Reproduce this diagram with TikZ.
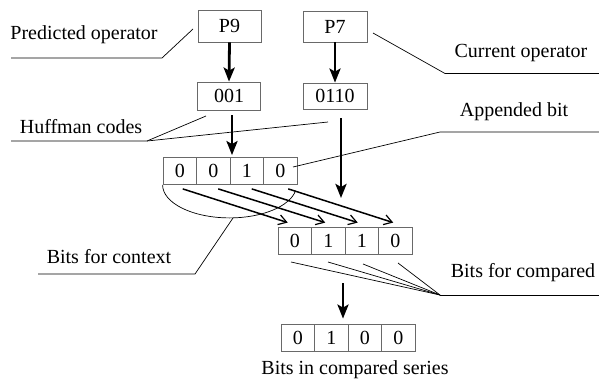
\documentclass[tikz,border=0pt]{standalone}
\usepackage{fontspec}
\setmainfont{Liberation Serif}
\usetikzlibrary{arrows.meta}
\definecolor{boxgray}{RGB}{105,105,105}
\begin{document}
\begin{tikzpicture}[x=1pt,y=-1pt,
  font=\fontsize{20}{24}\selectfont,
  opbox/.style={draw=boxgray,line width=0.8pt,inner sep=0pt,minimum width=63pt,minimum height=30pt},
  cell/.style={draw=boxgray,line width=0.8pt,inner sep=0pt,minimum width=33.5pt,minimum height=27pt},
  lbl/.style={inner sep=0pt},
  bigarrow/.style={line width=2.8pt,-{Stealth[length=14pt,width=11pt,inset=3pt]}},
  diagarrow/.style={line width=1.5pt,-{Straight Barb[length=8pt,width=10pt,line width=1.2pt]}},
  leader/.style={line width=0.7pt}]
\useasboundingbox (0,0) rectangle (599,380);

% operator boxes
\node[opbox,minimum height=32pt] (p9) at (229.5,26) {P9};
\node[opbox,minimum height=28pt] (c001) at (229,96) {001};
\node[opbox,minimum width=64pt,minimum height=31pt] (p7) at (335,26.5) {P7};
\node[opbox,minimum width=64pt,minimum height=26pt] (c0110) at (335,96) {0110};

% bit rows
\node[cell] (r11) at (179.75,171) {0};
\node[cell] (r12) at (213.25,171) {0};
\node[cell] (r13) at (246.75,171) {1};
\node[cell] (r14) at (280.25,171) {0};

\node[cell] (r21) at (294.75,240.5) {0};
\node[cell] (r22) at (328.25,240.5) {1};
\node[cell] (r23) at (361.75,240.5) {1};
\node[cell] (r24) at (395.25,240.5) {0};

\node[cell] (r31) at (297.75,337.5) {0};
\node[cell] (r32) at (331.25,337.5) {1};
\node[cell] (r33) at (364.75,337.5) {0};
\node[cell] (r34) at (398.25,337.5) {0};

% vertical arrows
\draw[bigarrow] (p9.south) -- (c001.north);
\draw[bigarrow] (p7.south) -- (c0110.north);
\draw[bigarrow,shorten <=5pt,shorten >=2pt] ([xshift=3pt]c001.south) -- ([xshift=3pt]c001.south |- r13.north);
\coordinate (a2end) at (341,198);
\draw[bigarrow,shorten <=9pt] ([xshift=6pt]c0110.south) -- (a2end);
\draw[bigarrow,shorten <=29pt,shorten >=5pt] ([xshift=14.75pt]r22.south) -- ([xshift=11.75pt]r32.north);

% diagonal arrows
\draw[diagarrow] ([xshift=3pt,yshift=-4pt]r11.south) -- ([xshift=-7pt,yshift=4pt]r21.north);
\draw[diagarrow] ([xshift=5pt,yshift=-4pt]r12.south) -- ([xshift=-3pt,yshift=4pt]r22.north);
\draw[diagarrow] ([xshift=5pt,yshift=-4pt]r13.south) -- ([xshift=-4pt,yshift=4pt]r23.north);
\draw[diagarrow] ([xshift=8pt,yshift=-4pt]r14.south) -- ([xshift=-2pt,yshift=4pt]r24.north);

% context arc
\draw[leader] (r11.south west) arc[start angle=180,end angle=350,x radius=67pt,y radius=33pt];

% labels
\node[lbl] (tpred) at (84,35) {Predicted operator};
\node[lbl] (thuff) at (81,127) {Huffman codes};
\node[lbl] (tcur) at (521,53) {Current operator};
\node[lbl] (tapp) at (514,112) {Appended bit};
\node[lbl] (tctx) at (109,257) {Bits for context};
\node[lbl] (tcmp) at (523,273) {Bits for compared};
\node[lbl] (tser) at (355,370) {Bits in compared series};

% leader lines
\coordinate (pl1) at (11,58);
\coordinate (pl2) at (162,58);
\coordinate (pl3) at (193,29);
\draw[leader] (pl1) -- (pl2) -- (pl3);

\coordinate (hl1) at (11,141);
\coordinate (hl2) at (147,141);
\coordinate (hl3) at (206,116);
\coordinate (hl4) at (328,122);
\draw[leader] (hl1) -- (hl2) -- (hl3);
\draw[leader] (hl2) -- (hl4);

\coordinate (cl1) at (373,33);
\coordinate (cl2) at (445,73.5);
\coordinate (cl3) at (599,73.5);
\draw[leader] (cl1) -- (cl2) -- (cl3);

\coordinate (al1) at (293,167);
\coordinate (al2) at (440,132);
\coordinate (al3) at (599,132);
\draw[leader] (al1) -- (al2) -- (al3);

\coordinate (xl1) at (38,274);
\coordinate (xl2) at (195,274);
\coordinate (xl3) at (233,218);
\draw[leader] (xl1) -- (xl2) -- (xl3);

\coordinate (ml0) at (440,295);
\coordinate (ml1) at (599,295);
\coordinate (ms1) at (291,262);
\coordinate (ms2) at (328,262);
\coordinate (ms3) at (363,264);
\coordinate (ms4) at (398,263);
\draw[leader] (ml0) -- (ml1);
\foreach \s in {ms1,ms2,ms3,ms4} \draw[leader] (\s) -- (ml0);
\end{tikzpicture}
\end{document}
